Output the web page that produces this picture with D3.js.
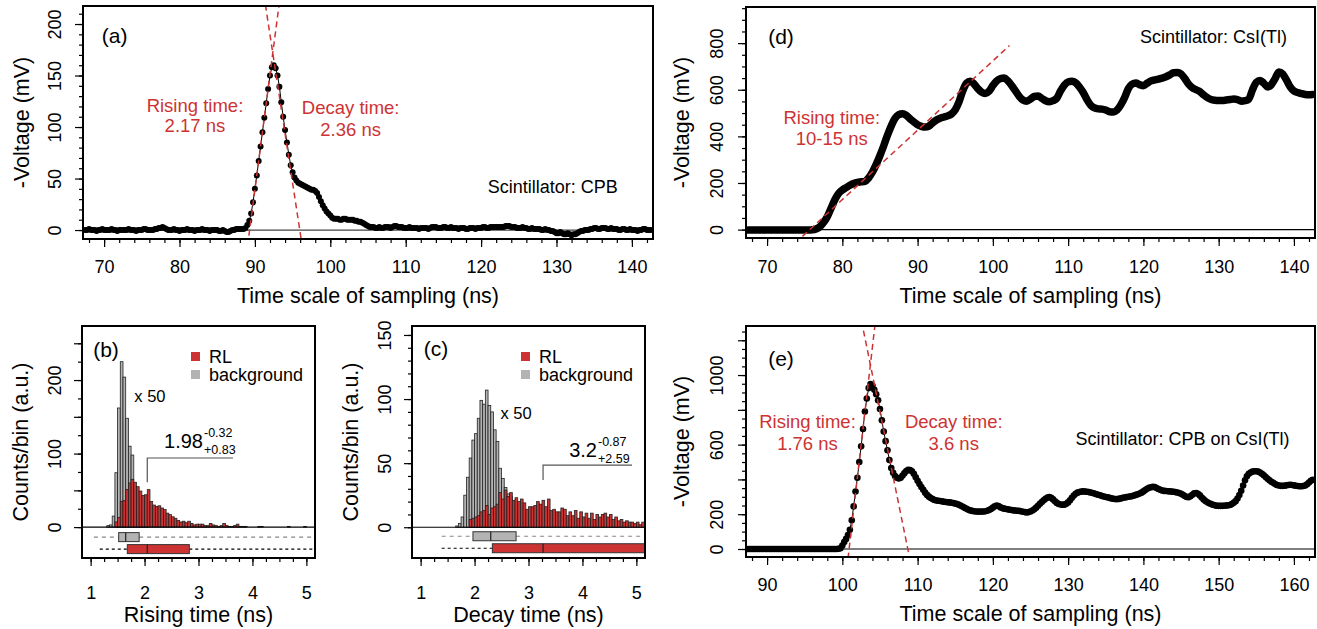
<!DOCTYPE html>
<html>
<head>
<meta charset="utf-8">
<script src="https://cdn.jsdelivr.net/npm/d3@7"></script>
<style>
body { margin: 0; background: #fff; }
</style>
</head>
<body>
<div id="graph"></div>
<script>
//---- waveform (a): CPB, one sample every 0.25 ns from 67.5 ns (mV)
var aStart = 67.5, aStep = 0.25;
var aVolt = [
  0,0,1,0,0,0,-1,0,0,1,0,0,0,0,1,0,0,-1,0,0,
  0,0,0,1,0,0,0,-1,0,0,0,1,1,0,0,0,0,1,1,2,
  2,3,2,1,0,0,0,1,0,0,-1,0,0,0,1,0,0,0,-1,0,
  0,0,1,0,0,0,-1,0,0,0,0,-1,-1,0,-1,-2,-2,-1,0,0,
  1,1,1,1,1,2,5,9,16,27,40,53,67,81,95,109,123,137,150,158,
  160,157,150,139,124,110,97,85,73,63,56,51,48,46,45,44,43,42,41,40,
  39,39,38,36,32,28,24,21,18,16,14,12,11,11,11,10,10,11,11,10,
  10,10,10,9,9,8,8,7,6,5,4,3,3,3,2,2,3,2,2,3,
  3,3,2,3,4,4,3,3,3,2,2,2,3,2,2,2,2,1,2,2,
  2,2,1,2,3,3,3,2,2,2,3,3,2,2,3,2,2,2,1,2,
  2,2,1,1,2,2,2,1,2,2,2,3,3,2,2,3,3,3,3,3,
  3,3,3,4,4,4,3,3,3,2,2,2,3,2,2,1,1,2,1,1,
  1,1,0,0,1,0,0,-1,-1,-2,-3,-3,-2,-3,-4,-4,-3,-4,-5,-4,
  -4,-3,-2,-1,-1,0,0,0,1,1,2,2,1,1,2,2,2,1,1,2,
  1,1,1,0,0,1,1,0,0,1,0,0,0,-1,0,0,1,1,0,0,
  0
];

//---- waveform (d): CsI(Tl), every 0.5 ns from 67.5 ns
var dStart = 67.5, dStep = 0.5;
var dVolt = [
  -2,-2,-2,-2,-2,-2,-2,-2,-2,-2,
  -2,-2,-2,-2,-2,-2,-2,-1,3,12,
  30,55,92,128,155,170,180,190,198,203,
  205,207,222,247,280,318,360,405,445,477,
  493,497,490,475,462,450,443,440,444,458,
  470,478,483,488,496,514,548,595,628,636,
  625,605,590,584,594,618,638,648,650,638,
  618,595,572,556,551,560,571,573,563,553,
  549,553,564,595,620,634,636,630,612,588,
  558,534,522,518,517,513,506,505,513,535,
  566,605,624,629,622,617,628,638,642,646,
  650,656,664,673,674,668,648,624,609,600,
  592,578,566,558,555,554,554,556,558,560,
  558,551,553,560,600,632,640,628,612,622,
  648,676,668,642,612,595,588,583,580,579,
  580
];

//---- waveform (e): CPB on CsI(Tl), every 0.25 ns from 87.5 ns
var eStart = 87.5, eStep = 0.25;
var eVolt = [
  0,0,0,0,0,0,0,0,0,0,0,0,0,0,0,0,0,0,0,0,
  0,0,0,0,0,0,0,0,0,0,0,0,0,0,0,0,0,0,0,0,
  0,0,0,0,0,0,0,0,1,4,20,40,58,80,110,165,245,330,410,500,
  590,690,790,865,925,948,940,915,890,855,805,740,675,620,568,512,465,438,420,410,
  406,410,422,436,448,455,454,447,432,412,392,373,356,340,324,311,301,293,287,282,
  279,277,276,274,272,270,269,268,266,264,261,258,254,249,243,237,231,226,222,219,
  217,216,215,215,215,216,217,220,224,230,238,246,250,247,240,235,232,230,228,226,
  224,222,221,220,219,217,214,212,210,212,216,221,228,238,249,260,270,280,289,296,
  298,295,285,274,265,259,256,254,255,260,268,280,294,307,317,324,328,330,331,330,
  329,327,325,322,319,315,312,309,305,302,299,297,294,291,289,287,287,288,291,294,
  296,298,300,302,304,307,311,315,319,324,331,339,346,352,355,357,356,351,345,340,
  336,334,333,332,331,330,329,327,325,322,318,312,305,299,298,303,312,320,322,318,
  308,296,285,276,269,263,258,254,251,249,248,248,248,249,250,251,253,258,266,275,
  290,310,335,365,395,418,432,440,445,447,447,445,440,433,424,414,404,395,387,380,
  373,368,365,363,363,364,366,368,369,368,366,364,362,361,361,362,365,372,382,392,
  398
];

// fitted edges: [time at 0 mV, slope mV/ns]
var aRiseFit = [89.3, 56];
var aDecayFit = [95.95, -48];
var dRiseFit = [75.67, 29.75];
var dRiseSpan = [74.7, 102.2];
var eRiseFit = [100.9, 375];
var eDecayFit = [108.7, -213];

//---- histograms, bins of 0.05 ns (background is x 50)
var binWidth = 0.05;
var bBgStart = 1.30;
var bBg = [2,3,15,74,162,225,204,148,110,98,55,30,12,5,2];
var bRlStart = 1.45;
var bRl = [
  7,13,35,36,51,60,65,61,55,49,
  43,44,51,35,30,28,29,26,24,19,
  17,14,12,9,7,8,6,8,5,3,
  4,4,4,2,2,5,3,2,1,2,
  5,2,1,1,2,4,1,1,1,0,
  0,0,0,1,1,0,0,0,0,0,
  0,0,0,0,1,0,0,0,0,0,
  1
];
var cBgStart = 1.65;
var cBg = [1,3,8,25,39,54,68,73,85,99,96,107,95,90,76,67,46,38,31,26,24,18,12,8,5,3,2];
var cRlStart = 1.90;
var cRl = [
  6,7,8,9,12,13,17,10,15,16,
  18,27,22,29,24,27,21,23,20,22,
  19,14,16,16,17,20,18,21,16,22,
  13,14,12,12,15,14,9,12,9,13,
  7,12,8,11,7,11,6,10,8,10,
  11,8,10,6,8,5,6,4,5,4,
  4,3,4,2,4
];

// boxplots: [lower whisker, q1, median, q3]
var bBgBox = [1.06, 1.52, 1.65, 1.90];
var bRlBox = [1.17, 1.68, 2.05, 2.83];
var cBgBox = [1.39, 1.97, 2.30, 2.77];
var cRlBox = [1.39, 2.33, 3.27, 5.79];

// tick labels
var aXTicks = [70, 80, 90, 100, 110, 120, 130, 140];
var aYTicks = [0, 50, 100, 150, 200];
var dYTicks = [0, 200, 400, 600, 800];
var eXTicks = [90, 100, 110, 120, 130, 140, 150, 160];
var eYTicks = [0, 200, 400, 600, 800, 1000, 1200];
var eYLabels = [0, 200, 600, 1000];
var hXTicks = [1, 2, 3, 4, 5];
var bYTicks = [0, 50, 100, 150, 200, 250];
var bYLabels = [0, 100, 200];
var cYTicks = [0, 50, 100, 150];

var FONT = "'Liberation Sans', Arial, Helvetica, sans-serif";
var RED = "#cd3333";
var GREY = "#b3b3b3";
var TICK_FONT = 18;
var TITLE_FONT = 21.5;

var svg = d3.select("#graph").append("svg")
  .attr("width", 1317)
  .attr("height", 629)
  .style("font-family", FONT);

var clipCount = 0;

function makePanel(box, xDom, yDom) {
  let p = {box: box};
  p.x = d3.scaleLinear().domain(xDom).range([box.left, box.right]);
  p.y = d3.scaleLinear().domain(yDom).range([box.bottom, box.top]);
  let id = "clip" + (clipCount++);
  svg.append("clipPath").attr("id", id)
    .append("rect")
    .attr("x", box.left).attr("y", box.top)
    .attr("width", box.right - box.left)
    .attr("height", box.bottom - box.top);
  p.g = svg.append("g");
  p.plot = p.g.append("g").attr("clip-path", "url(#" + id + ")");
  return p;
}

function tidy(g) {
  g.attr("font-family", null).attr("font-size", TICK_FONT);
  g.select(".domain").remove();
  g.selectAll("line").attr("stroke", "#000").attr("stroke-width", 1.2);
  g.selectAll("text").attr("fill", "#000");
}

function drawAxes(p, o) {
  let b = p.box;
  //x axis: minor then major ticks
  p.g.append("g")
    .attr("transform", "translate(0," + b.bottom + ")")
    .call(d3.axisBottom(p.x).tickValues(o.xMinor).tickSize(4).tickFormat(""))
    .call(tidy);
  let xa = p.g.append("g")
    .attr("transform", "translate(0," + b.bottom + ")")
    .call(d3.axisBottom(p.x).tickValues(o.xMajor).tickSize(8)
      .tickFormat(function(d) { return String(d); }))
    .call(tidy);
  xa.selectAll("text").attr("y", o.xLabOff).attr("dy", "0.35em");

  //y axis, labels turned like R does
  p.g.append("g")
    .attr("transform", "translate(" + b.left + ",0)")
    .call(d3.axisLeft(p.y).tickValues(o.yMinor).tickSize(4).tickFormat(""))
    .call(tidy);
  let labels = o.yLabels || o.yMajor;
  let ya = p.g.append("g")
    .attr("transform", "translate(" + b.left + ",0)")
    .call(d3.axisLeft(p.y).tickValues(o.yMajor).tickSize(8)
      .tickFormat(function(d) { return labels.indexOf(d) >= 0 ? String(d) : ""; }))
    .call(tidy);
  ya.selectAll("text")
    .attr("x", null)
    .attr("y", -o.yLabOff)
    .attr("dy", "0.35em")
    .attr("transform", "rotate(-90)")
    .attr("text-anchor", "middle");

  //titles
  p.g.append("text")
    .attr("x", (b.left + b.right) / 2)
    .attr("y", b.bottom + o.xTitleOff)
    .attr("dy", "0.35em")
    .attr("text-anchor", "middle")
    .attr("font-size", TITLE_FONT)
    .text(o.xTitle);
  p.g.append("text")
    .attr("transform", "translate(" + (b.left - o.yTitleOff) + "," + ((b.top + b.bottom) / 2) + ") rotate(-90)")
    .attr("dy", "0.35em")
    .attr("text-anchor", "middle")
    .attr("font-size", TITLE_FONT)
    .text(o.yTitle);

  //frame
  p.g.append("rect")
    .attr("x", b.left).attr("y", b.top)
    .attr("width", b.right - b.left)
    .attr("height", b.bottom - b.top)
    .attr("fill", "none")
    .attr("stroke", "#000")
    .attr("stroke-width", 2);
}

function toPoints(start, step, vals) {
  return vals.map(function(v, i) { return {t: start + i * step, v: v}; });
}

function zeroLine(p, color) {
  p.plot.append("line")
    .attr("x1", p.box.left).attr("x2", p.box.right)
    .attr("y1", p.y(0)).attr("y2", p.y(0))
    .attr("stroke", color).attr("stroke-width", 1.2);
}

function dottedTrace(p, pts, r) {
  let line = d3.line()
    .x(function(d) { return p.x(d.t); })
    .y(function(d) { return p.y(d.v); });
  p.plot.append("path")
    .datum(pts)
    .attr("d", line)
    .attr("fill", "none")
    .attr("stroke", "#000")
    .attr("stroke-width", 1);
  p.plot.append("g").selectAll("circle")
    .data(pts)
    .join("circle")
    .attr("cx", function(d) { return p.x(d.t); })
    .attr("cy", function(d) { return p.y(d.v); })
    .attr("r", r)
    .attr("fill", "#000");
}

function fitLine(p, fit, span) {
  let dom = span || p.x.domain();
  let ends = dom.map(function(t) { return {t: t, v: fit[1] * (t - fit[0])}; });
  p.plot.append("line")
    .attr("x1", p.x(ends[0].t)).attr("y1", p.y(ends[0].v))
    .attr("x2", p.x(ends[1].t)).attr("y2", p.y(ends[1].v))
    .attr("stroke", RED)
    .attr("stroke-width", 1.5)
    .attr("stroke-dasharray", "6,4");
}

function label(p, t, v, txt, opts) {
  opts = opts || {};
  p.g.append("text")
    .attr("x", p.x(t))
    .attr("y", p.y(v))
    .attr("dy", "0.35em")
    .attr("text-anchor", opts.anchor || "middle")
    .attr("font-size", opts.size || 18.5)
    .attr("fill", opts.color || "#000")
    .text(txt);
}

function hist(p, start, counts, fill) {
  let bins = counts.map(function(n, i) {
    return {x0: start + i * binWidth, x1: start + (i + 1) * binWidth, n: n};
  }).filter(function(d) { return d.n > 0; });
  p.plot.append("g").selectAll("rect")
    .data(bins)
    .join("rect")
    .attr("x", function(d) { return p.x(d.x0); })
    .attr("width", function(d) { return p.x(d.x1) - p.x(d.x0); })
    .attr("y", function(d) { return p.y(d.n); })
    .attr("height", function(d) { return p.y(0) - p.y(d.n); })
    .attr("fill", fill)
    .attr("stroke", "#222")
    .attr("stroke-width", 0.8);
}

function boxplot(p, q, offset, fill, dashColor, dash) {
  let yc = p.y(0) + offset;
  let xmax = p.x.domain()[1] + 1;
  let whiskers = [[q[0], q[1]], [q[3], xmax]];
  p.plot.append("g").selectAll("line")
    .data(whiskers)
    .join("line")
    .attr("x1", function(d) { return p.x(d[0]); })
    .attr("x2", function(d) { return p.x(d[1]); })
    .attr("y1", yc).attr("y2", yc)
    .attr("stroke", dashColor)
    .attr("stroke-width", 1.2)
    .attr("stroke-dasharray", dash);
  p.plot.append("rect")
    .attr("x", p.x(q[1]))
    .attr("width", p.x(q[3]) - p.x(q[1]))
    .attr("y", yc - 4.5)
    .attr("height", 9)
    .attr("fill", fill)
    .attr("stroke", "#333")
    .attr("stroke-width", 1);
  p.plot.append("line")
    .attr("x1", p.x(q[2])).attr("x2", p.x(q[2]))
    .attr("y1", yc - 4.5).attr("y2", yc + 4.5)
    .attr("stroke", "#222")
    .attr("stroke-width", 1.2);
}

function legend(p) {
  let lx = p.box.left + 109, ly = p.box.top + 26;
  let items = [{c: RED, t: "RL"}, {c: GREY, t: "background"}];
  items.forEach(function(it, i) {
    p.g.append("rect")
      .attr("x", lx).attr("y", ly + i * 18)
      .attr("width", 9).attr("height", 9)
      .attr("fill", it.c);
    p.g.append("text")
      .attr("x", lx + 18).attr("y", ly + i * 18 + 4.5)
      .attr("dy", "0.35em")
      .attr("font-size", 18)
      .text(it.t);
  });
}

//median with asymmetric errors and a bracket pointing at the median
function medianNote(p, txt, sup, sub, tx, ty, bracket) {
  let x0 = p.x(tx), y0 = p.y(ty);
  p.g.append("text").attr("x", x0).attr("y", y0)
    .attr("text-anchor", "end").attr("font-size", 20).text(txt);
  p.g.append("text").attr("x", x0 + 1).attr("y", y0 - 11)
    .attr("font-size", 12.5).text(sup);
  p.g.append("text").attr("x", x0 + 1).attr("y", y0 + 6)
    .attr("font-size", 12.5).text(sub);
  p.g.append("path")
    .attr("d", "M" + p.x(bracket[1]) + "," + p.y(bracket[2]) +
               "H" + p.x(bracket[0]) + "V" + p.y(bracket[3]))
    .attr("fill", "none")
    .attr("stroke", "#555")
    .attr("stroke-width", 1.2);
}

//================ (a) ================
var pa = makePanel({left: 83, right: 653, top: 6, bottom: 239}, [67.2, 142.8], [-8.7, 217.5]);
zeroLine(pa, "#444");
dottedTrace(pa, toPoints(aStart, aStep, aVolt), 3);
fitLine(pa, aRiseFit);
fitLine(pa, aDecayFit);
drawAxes(pa, {
  xMajor: aXTicks, xMinor: d3.range(68, 143, 2),
  yMajor: aYTicks, yMinor: d3.range(0, 211, 10),
  xLabOff: 28, yLabOff: 28, xTitleOff: 56, yTitleOff: 62,
  xTitle: "Time scale of sampling (ns)", yTitle: "-Voltage (mV)"
});
label(pa, 71.4, 189, "(a)", {size: 21});
label(pa, 82.05, 121, "Rising time:", {color: RED});
label(pa, 82.05, 101, "2.17 ns", {color: RED});
label(pa, 102.7, 119, "Decay time:", {color: RED});
label(pa, 102.7, 98, "2.36 ns", {color: RED});
label(pa, 129.5, 42, "Scintillator: CPB", {size: 18});

//================ (d) ================
var pd = makePanel({left: 746, right: 1315, top: 7, bottom: 238}, [67.2, 142.8], [-36, 955]);
zeroLine(pd, "#000");
pd.plot.append("path")
  .datum(toPoints(dStart, dStep, dVolt))
  .attr("d", d3.line()
    .curve(d3.curveMonotoneX)
    .x(function(d) { return pd.x(d.t); })
    .y(function(d) { return pd.y(d.v); }))
  .attr("fill", "none")
  .attr("stroke", "#000")
  .attr("stroke-width", 7.5)
  .attr("stroke-linejoin", "round")
  .attr("stroke-linecap", "round");
fitLine(pd, dRiseFit, dRiseSpan);
drawAxes(pd, {
  xMajor: aXTicks, xMinor: d3.range(68, 143, 2),
  yMajor: dYTicks, yMinor: d3.range(0, 951, 50),
  xLabOff: 29, yLabOff: 29, xTitleOff: 57, yTitleOff: 65,
  xTitle: "Time scale of sampling (ns)", yTitle: "-Voltage (mV)"
});
label(pd, 71.85, 826, "(d)", {size: 21});
label(pd, 78.6, 479, "Rising time:", {color: RED});
label(pd, 78.6, 389, "10-15 ns", {color: RED});
label(pd, 129.3, 826, "Scintillator: CsI(Tl)", {size: 18});

//================ (e) ================
var pe = makePanel({left: 746, right: 1315, top: 326, bottom: 557}, [87.2, 162.8], [-46, 1282]);
zeroLine(pe, "#000");
dottedTrace(pe, toPoints(eStart, eStep, eVolt), 3.3);
fitLine(pe, eRiseFit);
fitLine(pe, eDecayFit);
drawAxes(pe, {
  xMajor: eXTicks, xMinor: d3.range(88, 163, 2),
  yMajor: eYTicks, yLabels: eYLabels, yMinor: d3.range(0, 1251, 50),
  xLabOff: 28, yLabOff: 29, xTitleOff: 56, yTitleOff: 65,
  xTitle: "Time scale of sampling (ns)", yTitle: "-Voltage (mV)"
});
label(pe, 91.85, 1096, "(e)", {size: 21});
label(pe, 95.37, 732, "Rising time:", {color: RED});
label(pe, 95.37, 608, "1.76 ns", {color: RED});
label(pe, 114.8, 732, "Decay time:", {color: RED});
label(pe, 114.8, 608, "3.6 ns", {color: RED});
label(pe, 145.2, 636, "Scintillator: CPB on CsI(Tl)", {size: 18});

//================ (b) ================
var pb = makePanel({left: 82, right: 315, top: 326, bottom: 558}, [0.84, 5.16], [-42, 273.5]);
hist(pb, bBgStart, bBg, GREY);
hist(pb, bRlStart, bRl, RED);
zeroLine(pb, "#000");
boxplot(pb, bBgBox, 10, GREY, "#888", "4,4");
boxplot(pb, bRlBox, 22, RED, "#000", "3,3");
drawAxes(pb, {
  xMajor: hXTicks, xMinor: d3.range(1, 5.01, 0.25),
  yMajor: bYTicks, yLabels: bYLabels, yMinor: d3.range(0, 251, 25),
  xLabOff: 35, yLabOff: 27, xTitleOff: 56, yTitleOff: 62,
  xTitle: "Rising time (ns)", yTitle: "Counts/bin (a.u.)"
});
label(pb, 1.285, 242, "(b)", {size: 21});
label(pb, 2.10, 178, "x 50", {size: 16.5});
legend(pb);
medianNote(pb, "1.98", "-0.32", "+0.83", 3.083, 107.6, [2.05, 3.64, 94, 61]);

//================ (c) ================
var pc = makePanel({left: 412, right: 645, top: 326, bottom: 558}, [0.84, 5.16], [-24, 157]);
hist(pc, cBgStart, cBg, GREY);
hist(pc, cRlStart, cRl, RED);
zeroLine(pc, "#000");
boxplot(pc, cBgBox, 9, GREY, "#888", "4,4");
boxplot(pc, cRlBox, 21, RED, "#000", "3,3");
drawAxes(pc, {
  xMajor: hXTicks, xMinor: d3.range(1, 5.01, 0.25),
  yMajor: cYTicks, yMinor: d3.range(0, 151, 10),
  xLabOff: 35, yLabOff: 27, xTitleOff: 56, yTitleOff: 62,
  xTitle: "Decay time (ns)", yTitle: "Counts/bin (a.u.)"
});
label(pc, 1.285, 139, "(c)", {size: 21});
label(pc, 2.77, 89, "x 50", {size: 16.5});
legend(pc);
medianNote(pc, "3.2", "-0.87", "+2.59", 4.27, 54.8, [3.27, 4.92, 48.5, 36.8]);
</script>
</body>
</html>
